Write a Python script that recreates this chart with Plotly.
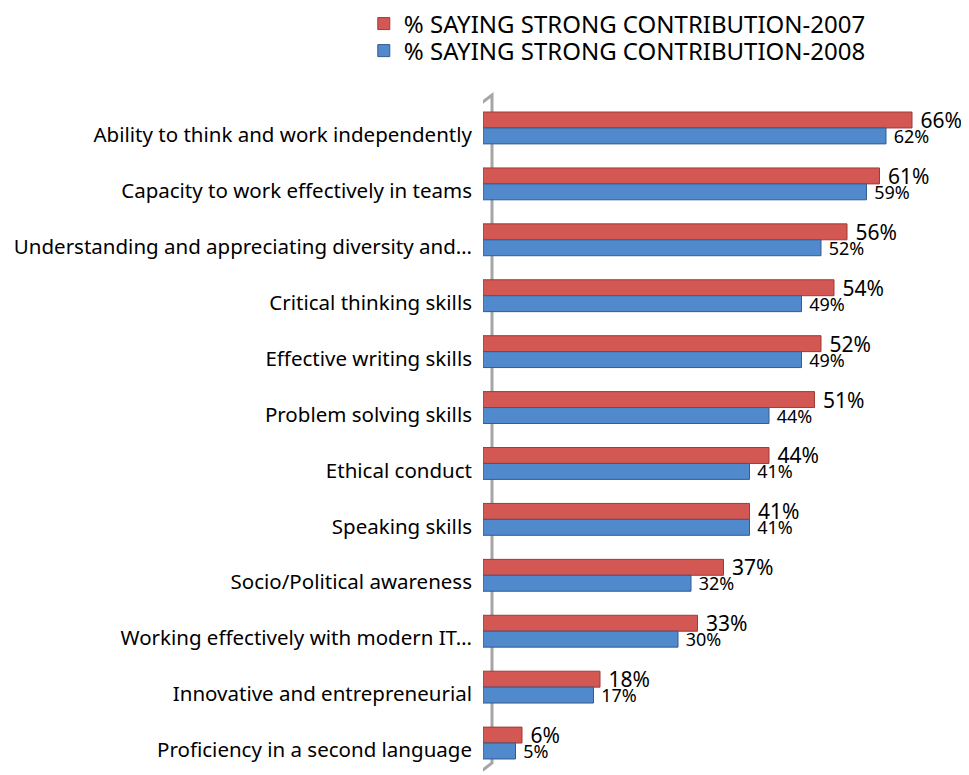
import plotly.graph_objects as go

categories = [
    "Ability to think and work independently",
    "Capacity to work effectively in teams",
    "Understanding and appreciating diversity and…",
    "Critical thinking skills",
    "Effective writing skills",
    "Problem solving skills",
    "Ethical conduct",
    "Speaking skills",
    "Socio/Political awareness",
    "Working effectively with modern IT…",
    "Innovative and entrepreneurial",
    "Proficiency in a second language",
]
values_2007 = [66, 61, 56, 54, 52, 51, 44, 41, 37, 33, 18, 6]
values_2008 = [62, 59, 52, 49, 49, 44, 41, 41, 32, 30, 17, 5]

FONT = "Noto Sans"

fig = go.Figure()
fig.add_trace(go.Bar(
    y=categories, x=values_2007, orientation="h",
    name="% SAYING STRONG CONTRIBUTION-2007", legend="legend", showlegend=True,
    marker=dict(color="#D35752", line=dict(color="#9E3B38", width=1)),
    text=[f" {v}%" for v in values_2007], textposition="outside",
    constraintext="none",
    textfont=dict(size=21, color="#000000", family=FONT),
    cliponaxis=False,
))
fig.add_trace(go.Bar(
    y=categories, x=values_2008, orientation="h",
    name="% SAYING STRONG CONTRIBUTION-2008", legend="legend2", showlegend=True,
    marker=dict(color="#5089CC", line=dict(color="#345C8E", width=1)),
    text=[f" {v}%" for v in values_2008], textposition="outside",
    constraintext="none",
    textfont=dict(size=18, color="#000000", family=FONT),
    cliponaxis=False,
))

# 3D-style axis wall
fig.add_shape(
    type="path", xref="x", xsizemode="pixel", xanchor=0, yref="paper",
    path="M -4,0.9925 L -4,-0.003 L 9,0.012 L 9,1.0075 Z",
    line=dict(color="#A6A6A6", width=3), layer="below",
)

legend_style = dict(
    x=-0.262, xanchor="left", yanchor="middle", visible=True,
    font=dict(size=24, family=FONT), itemwidth=30, bgcolor="rgba(0,0,0,0)",
)

fig.update_layout(
    width=961, height=767, showlegend=True,
    barmode="group", bargap=0.43, bargroupgap=0,
    plot_bgcolor="white", paper_bgcolor="white",
    margin=dict(l=475, r=31, t=92, b=4, autoexpand=False),
    font=dict(family=FONT, size=20, color="#000000"),
    legend=dict(y=1.1133, **legend_style),
    legend2=dict(y=1.0730, **legend_style),
)
fig.update_xaxes(range=[0, 70], visible=False, showgrid=False)
fig.update_yaxes(
    autorange="reversed", showgrid=False, showline=False,
    ticks="", ticklabelstandoff=10, ticklabelshift=-7, automargin=False,
    tickfont=dict(size=20.5, family=FONT),
)

fig.write_html("out.html")
